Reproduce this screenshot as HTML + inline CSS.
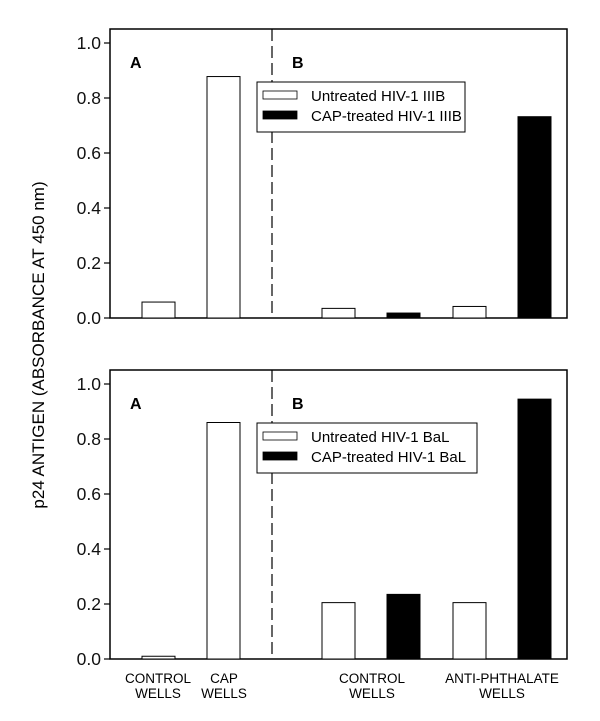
<!DOCTYPE html>
<html><head><meta charset="utf-8"><style>
body{margin:0;background:#fff}
svg{display:block;font-family:"Liberation Sans",sans-serif}
</style></head><body>
<svg id="c" width="600" height="721" xmlns="http://www.w3.org/2000/svg"></svg>
<script>
const categories=["A-control","A-cap","B-control-untreated","B-control-cap","B-anti-untreated","B-anti-cap"];
const topValues=[0.058,0.878,0.035,0.018,0.042,0.732];
const bottomValues=[0.01,0.86,0.205,0.235,0.205,0.945];
const barFills=["#fff","#fff","#fff","#000","#fff","#000"];
const yTicks=[0,0.2,0.4,0.6,0.8,1.0];
const yTickLabels=["0.0","0.2","0.4","0.6","0.8","1.0"];
const topLegend=["Untreated HIV-1 IIIB","CAP-treated HIV-1 IIIB"];
const bottomLegend=["Untreated HIV-1 BaL","CAP-treated HIV-1 BaL"];
const barX=[142,207,322,387,453,518];
const NS="http://www.w3.org/2000/svg";
const svg=document.getElementById('c');
function mk(t,a,p){const e=document.createElementNS(NS,t);for(const k in a)e.setAttribute(k,a[k]);(p||svg).appendChild(e);return e;}
function panel(top,vals,leg,id){
  const g=mk('g',{});
  
  
  const y0=top+289, L=110, R=567;
  const y=v=>y0-v*275;
  const f=mk('rect',{x:L,y:top,width:R-L,height:289,fill:'none',stroke:'#000','stroke-width':1.5},g);
  
  
  const d=mk('line',{x1:272,y1:top,x2:272,y2:y0,stroke:'#000','stroke-width':1.2,'stroke-dasharray':'12,5'},g);
  
  
  yTicks.forEach((t,i)=>{
    mk('line',{x1:L-6,y1:y(t),x2:L,y2:y(t),stroke:'#000','stroke-width':1.2},g);
    const tx=mk('text',{x:L-9,y:y(t)+6,'font-size':17.5,'text-anchor':'end',fill:'#111'},g);
    tx.textContent=yTickLabels[i];
    
    
  });
  vals.forEach((v,i)=>{
    const b=mk('rect',{x:barX[i],y:y(v),width:33,height:v*275,fill:barFills[i],stroke:'#000','stroke-width':1},g);
    
    
  });
  const a=mk('text',{x:130,y:top+39,'font-size':16,'font-weight':'bold'},g);a.textContent='A';
  
  
  const bb=mk('text',{x:292,y:top+39,'font-size':16,'font-weight':'bold'},g);bb.textContent='B';
  
  
  const lg=mk('g',{},g);
  
  
  const lw=id==='top-panel'?208:220;
  mk('rect',{x:257,y:top+53,width:lw,height:50,fill:'#fff',stroke:'#000','stroke-width':1},lg);
  leg.forEach((s,i)=>{
    const yy=top+62+i*20;
    mk('rect',{x:263,y:yy,width:34,height:8,fill:i?'#000':'#fff',stroke:'#000','stroke-width':0.8},lg);
    const t=mk('text',{x:311,y:yy+10,'font-size':15},lg);t.textContent=s;
    
    
  });
}
panel(29,topValues,topLegend,'top-panel');
panel(370,bottomValues,bottomLegend,'bottom-panel');
const yt=mk('text',{x:0,y:0,'font-size':17,'text-anchor':'middle',transform:'translate(44,345) rotate(-90)'});
yt.textContent='p24 ANTIGEN (ABSORBANCE AT 450 nm)';


[[158,'CONTROL','WELLS'],[224,'CAP','WELLS'],[372,'CONTROL','WELLS'],[502,'ANTI-PHTHALATE','WELLS']].forEach(([cx,a,b])=>{
  const t=mk('text',{x:cx,y:683,'font-size':13.5,'text-anchor':'middle'});
  
  
  mk('tspan',{x:cx,dy:0},t).textContent=a;
  mk('tspan',{x:cx,dy:15},t).textContent=b;
});
</script>
</body></html>
